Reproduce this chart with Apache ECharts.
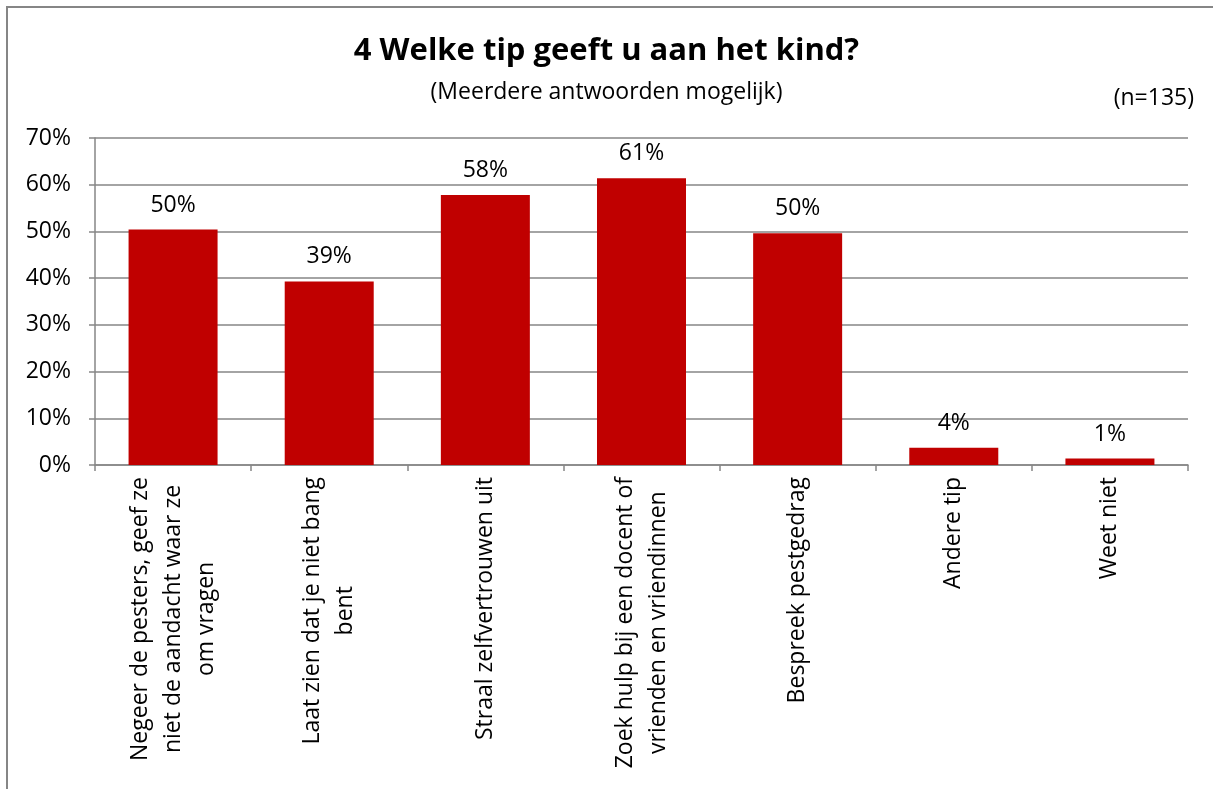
<!DOCTYPE html>
<html>
<head>
<meta charset="utf-8">
<script src="https://cdn.jsdelivr.net/npm/echarts@6/dist/echarts.min.js"></script>
<style>
  html, body { margin: 0; padding: 0; background: #fff; }
  #main { width: 1213px; height: 789px; }
</style>
</head>
<body>
<div id="main"></div>
<script>
// antwoorden (regels gescheiden met \n zoals in de figuur)
var categories = [
  'Negeer de pesters, geef ze\nniet de aandacht waar ze\nom vragen',
  'Laat zien dat je niet bang\nbent',
  'Straal zelfvertrouwen uit',
  'Zoek hulp bij een docent of\nvrienden en vriendinnen',
  'Bespreek pestgedrag',
  'Andere tip',
  'Weet niet'
];
var percentages = [50.4, 39.3, 57.8, 61.4, 49.6, 3.7, 1.4];
var yTicks = [0, 10, 20, 30, 40, 50, 60, 70];

var font = '"Open Sans", Lato, sans-serif';
var grey = '#868686';
var fs = 23;

var chart = echarts.init(document.getElementById('main'));
var option = {
  backgroundColor: '#fff',
  animation: false,
  textStyle: { fontFamily: font, color: '#000' },
  title: [
    {
      text: '4 Welke tip geeft u aan het kind?',
      left: 'center',
      top: 31,
      textStyle: { fontSize: 31, fontWeight: 'bold', color: '#000', fontFamily: font }
    },
    {
      text: '(Meerdere antwoorden mogelijk)',
      left: 'center',
      top: 76,
      textStyle: { fontSize: fs, fontWeight: 'normal', color: '#000', fontFamily: font }
    },
    {
      text: '(n=135)',
      right: 14,
      top: 82,
      textStyle: { fontSize: fs, fontWeight: 'normal', color: '#000', fontFamily: font }
    }
  ],
  graphic: [{
    type: 'rect',
    shape: { x: 7, y: 7, width: 1220, height: 800 },
    style: { fill: 'none', stroke: grey, lineWidth: 2 },
    silent: true
  }],
  grid: { left: 95, right: 25, top: 138, bottom: 324 },
  xAxis: {
    type: 'category',
    data: categories,
    axisLine: { lineStyle: { color: grey, width: 1.5 } },
    axisTick: { show: true, length: 6, lineStyle: { color: grey, width: 1.5 } },
    axisLabel: {
      rotate: 90,
      interval: 0,
      margin: 12,
      fontSize: fs,
      lineHeight: 33,
      color: '#000',
      fontFamily: font,
      formatter: function (v) {
        return v.split('\n').map(function (s) { return '{c|' + s + '}'; }).join('\n');
      },
      rich: { c: { align: 'center', fontSize: fs, lineHeight: 33, fontFamily: font, color: '#000' } }
    }
  },
  yAxis: {
    type: 'value',
    min: yTicks[0],
    max: yTicks[yTicks.length - 1],
    interval: 10,
    axisLine: { show: true, lineStyle: { color: grey, width: 1.5 } },
    axisTick: { show: true, length: 6, lineStyle: { color: grey, width: 1.5 } },
    splitLine: { lineStyle: { color: grey, width: 1.5 } },
    axisLabel: {
      formatter: '{value}%',
      fontSize: fs,
      margin: 24,
      color: '#000',
      fontFamily: font
    }
  },
  series: [{
    type: 'bar',
    data: percentages,
    barCategoryGap: '43%',
    itemStyle: { color: '#C00000' },
    label: {
      show: true,
      position: 'top',
      distance: 13,
      fontSize: fs,
      color: '#000',
      fontFamily: font,
      formatter: function (p) { return Math.round(p.value) + '%'; }
    }
  }]
};
chart.setOption(option);
</script>
</body>
</html>
